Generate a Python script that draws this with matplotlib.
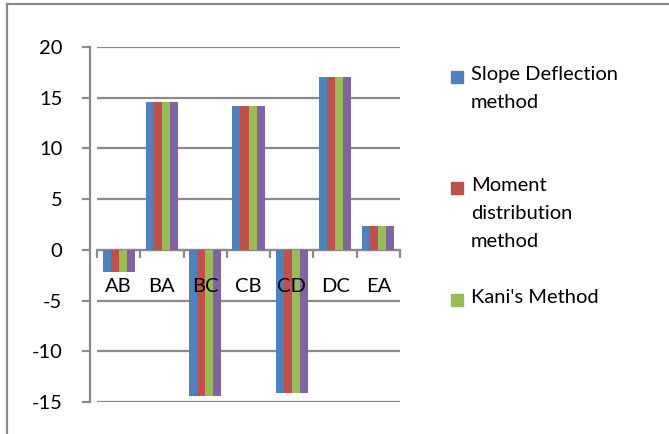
import matplotlib.pyplot as plt
from matplotlib.lines import Line2D
from matplotlib.patches import Rectangle
import numpy as np

plt.rcParams['font.family'] = ['Lato', 'DejaVu Sans']

# data
categories = ['AB', 'BA', 'BC', 'CB', 'CD', 'DC', 'EA']
slope_deflection = [-2.2, 14.6, -14.4, 14.2, -14.1, 17.0, 2.4]
moment_distribution = [-2.2, 14.6, -14.4, 14.2, -14.1, 17.0, 2.4]
kani = [-2.2, 14.6, -14.4, 14.2, -14.1, 17.0, 2.4]
series4 = [-2.2, 14.6, -14.4, 14.2, -14.1, 17.0, 2.4]
legend_labels = ['Slope Deflection\nmethod', 'Moment\ndistribution\nmethod', "Kani's Method"]
yticks = [-15, -10, -5, 0, 5, 10, 15, 20]

colors = ['#4F81BD', '#C0504D', '#9BBB59', '#8064A2']
gray = '#8a8a8a'

W, H = 669, 434
fig = plt.figure(figsize=(W / 100, H / 100), dpi=100)
ax = fig.add_axes([97 / W, 1 - 402 / H, 303 / W, 355 / H])

x = np.arange(len(categories))
width = 0.185
all_series = [slope_deflection, moment_distribution, kani, series4]
for i, (vals, col) in enumerate(zip(all_series, colors)):
    ax.bar(x + (i - 1.5) * width, vals, width, color=col, zorder=1)

for y in yticks:
    ax.axhline(y, color=gray, lw=1.6, zorder=0.5)

ax.spines['top'].set_visible(False)
ax.spines['right'].set_visible(False)
ax.spines['left'].set_position(('outward', 5))
ax.spines['left'].set_color(gray)
ax.spines['left'].set_linewidth(1.6)
ax.spines['bottom'].set_position(('data', 0))
ax.spines['bottom'].set_color(gray)
ax.spines['bottom'].set_linewidth(1.6)
ax.spines['bottom'].set_zorder(0.6)

ax.set_xlim(-0.5, len(categories) - 0.5)
ax.set_ylim(-15, 20)
ax.set_yticks(yticks)
ax.set_yticklabels([str(v) for v in yticks])
ax.tick_params(axis='y', length=6, width=1.6, color=gray, pad=14, labelsize=14.5)
ax.set_xticks(x)
ax.set_xticklabels(categories)
ax.tick_params(axis='x', which='major', length=0, pad=20, labelsize=14.5)
ax.set_xticks(np.arange(len(categories) + 1) - 0.5, minor=True)
ax.tick_params(axis='x', which='minor', length=6, width=1.6, color=gray)
ax.patch.set_visible(False)

# legend (only three entries are visible in the reference)
ly = [77, 188, 300]
for lab, col, yy in zip(legend_labels, colors, ly):
    fig.add_artist(Rectangle((451 / W, 1 - (yy + 6) / H), 12 / W, 12 / H,
                             transform=fig.transFigure, color=col))
    fig.text(471 / W, 1 - (yy - 11) / H, lab, fontsize=14.5, va='top', ha='left',
             linespacing=1.8)

# outer chart frame (right and bottom edges are cut off)
fig.add_artist(Line2D([7 / W, 7 / W], [0, 1 - 4 / H], transform=fig.transFigure,
                      color=gray, lw=1.6))
fig.add_artist(Line2D([7 / W, 1], [1 - 4 / H, 1 - 4 / H], transform=fig.transFigure,
                      color=gray, lw=1.6))

fig.savefig('out.png', dpi=100)
